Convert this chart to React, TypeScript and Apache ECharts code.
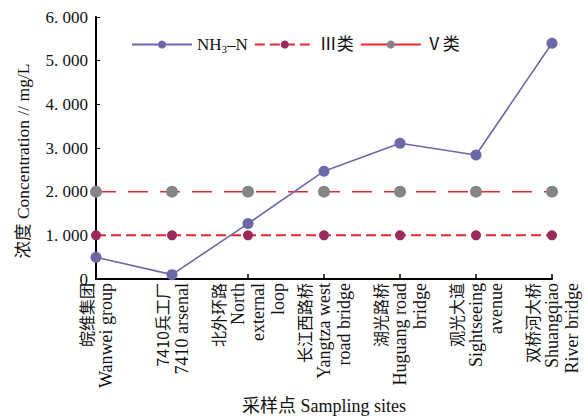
import React, { useEffect, useRef } from "react";
import * as echarts from "echarts";

const categories = [
  "皖维集团\nWanwei group",
  "7410兵工厂\n7410 arsenal",
  "北外环路\nNorth\nexternal\nloop",
  "长江西路桥\nYangtza west\nroad bridge",
  "湖光路桥\nHuguang road\nbridge",
  "观光大道\nSightseeing\navenue",
  "双桥河大桥\nShuangqiao\nRiver bridge",
];
const nh3n = [0.5, 0.1, 1.27, 2.47, 3.11, 2.84, 5.4];
const class3 = [1, 1, 1, 1, 1, 1, 1];
const class5 = [2, 2, 2, 2, 2, 2, 2];

const FONT = "'Liberation Serif', 'Times New Roman', 'Noto Sans CJK SC', serif";

export default function App() {
  const ref = useRef<HTMLDivElement>(null);
  useEffect(() => {
    const chart = echarts.init(ref.current!, null, { renderer: "svg" });
    chart.setOption({
      animation: false,
      backgroundColor: "#ffffff",
      textStyle: { fontFamily: FONT, color: "#111" },
      grid: { left: 96, right: 34, top: 17, bottom: 138, containLabel: false },
      legend: {
        top: 31,
        left: 126,
        itemWidth: 60,
        itemHeight: 10,
        itemGap: 6,
        textStyle: {
          fontFamily: FONT,
          fontSize: 17,
          color: "#111",
          rich: { sub: { fontSize: 11, verticalAlign: "bottom", padding: [8, 0, 0, 0], fontFamily: FONT } },
        },
        formatter: (name: string) => (name === "NH3-N" ? "NH{sub|3}–N" : name),
        data: [
          { name: "NH3-N" },
          { name: "Ⅲ类" },
          { name: "Ⅴ类", lineStyle: { type: "solid" } },
        ],
      },
      xAxis: {
        type: "category",
        data: categories,
        boundaryGap: false,
        name: "采样点 Sampling sites",
        nameLocation: "middle",
        nameGap: 118,
        nameTextStyle: { fontFamily: FONT, fontSize: 18, color: "#111" },
        axisLine: { lineStyle: { color: "#000", width: 2 } },
        axisTick: { inside: true, length: 5, lineStyle: { color: "#000", width: 1.5 } },
        axisLabel: {
          rotate: 90,
          interval: 0,
          margin: 4,
          color: "#111",
          lineHeight: 20,
          formatter: (v: string) =>
            v
              .split("\n")
              .map((s, i) => (i === 0 ? "{cn|" + s + "}" : "{en|" + s + "}"))
              .join("\n"),
          rich: {
            cn: { fontFamily: "'Noto Sans CJK SC', serif", fontSize: 16, lineHeight: 20, color: "#111" },
            en: { fontFamily: FONT, fontSize: 18, lineHeight: 20, color: "#111" },
          },
        },
        splitLine: { show: false },
      },
      yAxis: {
        type: "value",
        min: 0,
        max: 6,
        interval: 1,
        name: "浓度 Concentration // mg/L",
        nameLocation: "middle",
        nameGap: 64,
        nameRotate: 90,
        nameTextStyle: { fontFamily: FONT, fontSize: 17.5, color: "#111", padding: [0, 26, 0, 0] },
        axisLine: { show: true, lineStyle: { color: "#000", width: 2 } },
        axisTick: { show: true, inside: true, length: 4, lineStyle: { color: "#000" } },
        axisLabel: {
          fontFamily: FONT,
          fontSize: 17,
          color: "#111",
          margin: 8,
          formatter: (v: number) => (v === 0 ? "0" : v.toFixed(3).replace(".", ". ")),
        },
        splitLine: { show: false },
      },
      series: [
        {
          name: "NH3-N",
          type: "line",
          data: nh3n,
          symbol: "circle",
          symbolSize: 11,
          z: 5,
          lineStyle: { color: "#6b68a8", width: 1.6 },
          itemStyle: { color: "#6b68a8" },
        },
        {
          name: "Ⅲ类",
          type: "line",
          data: class3,
          symbol: "circle",
          symbolSize: 10,
          lineStyle: { color: "#e8262e", width: 2, type: [10, 5] },
          itemStyle: { color: "#9a2a5c" },
        },
        {
          name: "Ⅴ类",
          type: "line",
          data: class5,
          symbol: "circle",
          symbolSize: 12,
          lineStyle: { color: "#e8262e", width: 1.5, type: [20, 12] },
          itemStyle: { color: "#858585" },
        },
      ],
    });
    return () => chart.dispose();
  }, []);
  return <div ref={ref} style={{ width: 586, height: 420, position: "absolute", left: 0, top: 0 }} />;
}
